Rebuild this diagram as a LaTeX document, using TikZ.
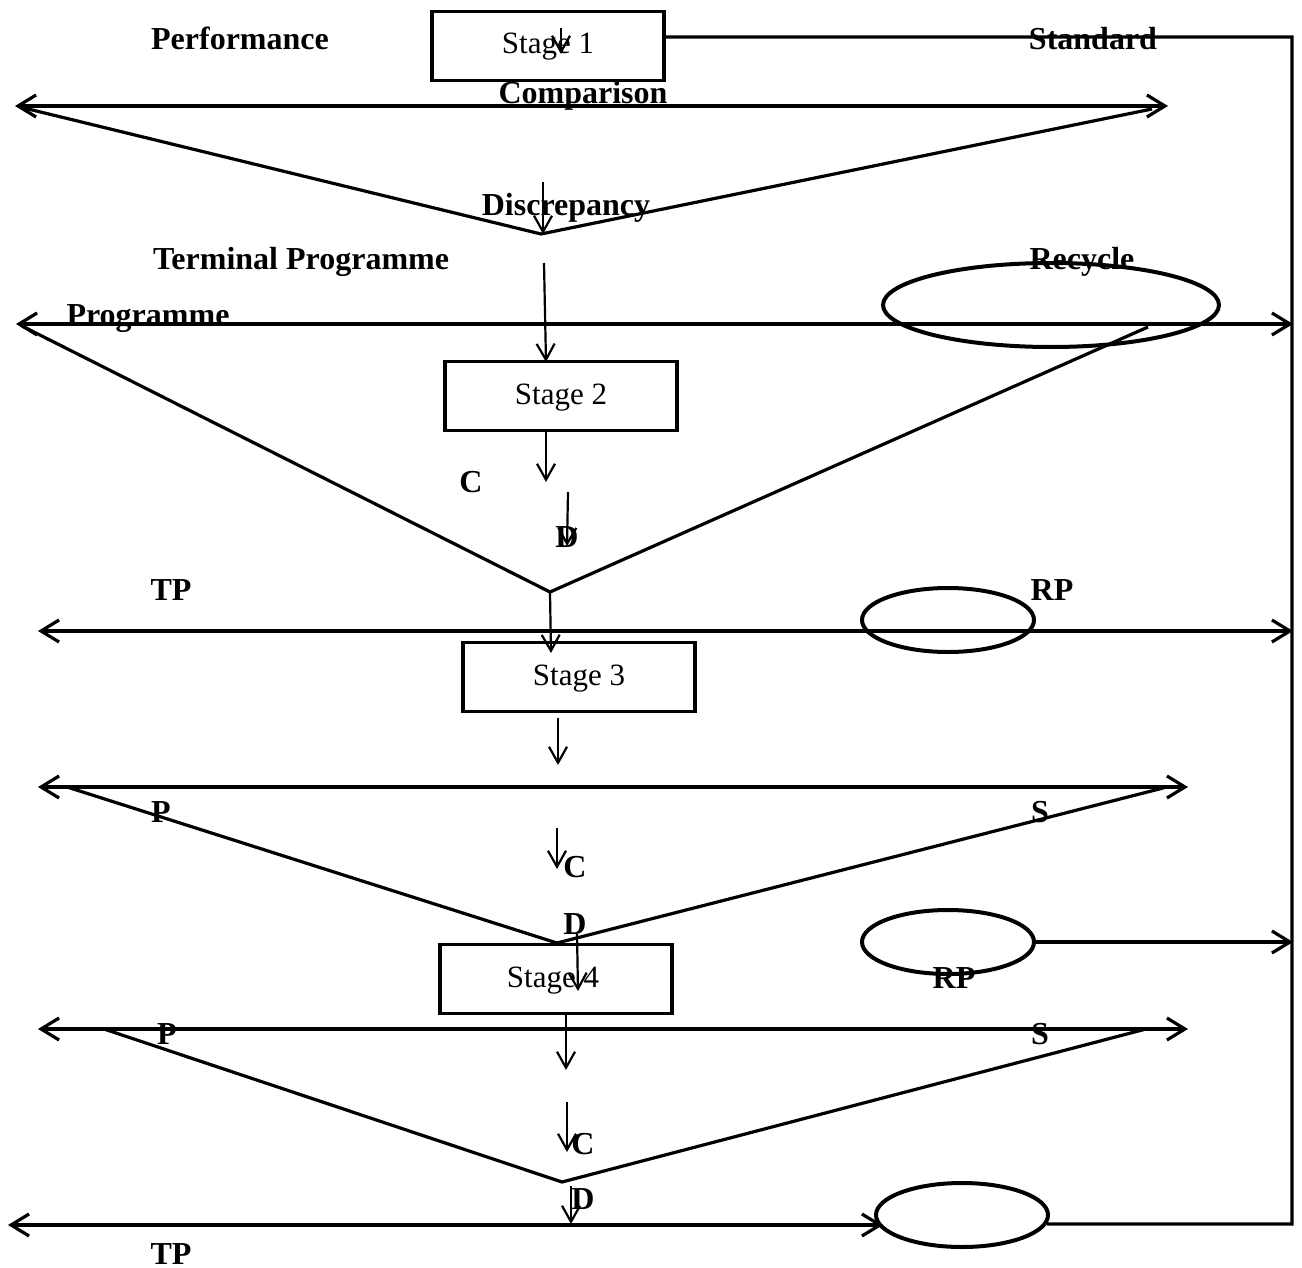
\documentclass[tikz,border=0pt]{standalone}
\usepackage{fontspec}
\setmainfont{Liberation Serif}
\usetikzlibrary{arrows.meta,shapes.geometric}
\tikzset{
  main/.style={line width=1.6pt},
  bigtip/.style={main,-{Straight Barb[length=9pt,width=11pt]}},
  dbl/.style={main,{Straight Barb[length=9pt,width=11pt]}-{Straight Barb[length=9pt,width=11pt]}},
  thinarrow/.style={line width=1.1pt,-{Straight Barb[length=8pt,width=9pt]}},
  stagebox/.style={draw,line width=1.6pt,minimum width=116pt,minimum height=34.5pt,inner sep=0pt,font=\fontsize{15.5}{18}\selectfont},
  lbl/.style={font=\bfseries\fontsize{16}{18}\selectfont,inner sep=0pt,anchor=base},
  oval/.style={draw,ellipse,line width=2pt,inner sep=0pt}
}
\begin{document}
\begin{tikzpicture}[x=0.5pt,y=-0.5pt]
\useasboundingbox (0,0) rectangle (1302,1268);

% stage boxes
\node[stagebox] (s1) at (548,46) {};
\node[stagebox] (s2) at (561,396) {};
\node[stagebox] (s3) at (579,677) {};
\node[stagebox] (s4) at (556,979) {};
\node[font=\fontsize{15.5}{18}\selectfont,inner sep=0pt,anchor=base] (s1t) at (548,54) {Stage 1};
\node[font=\fontsize{15.5}{18}\selectfont,inner sep=0pt,anchor=base] (s2t) at (561,404) {Stage 2};
\node[font=\fontsize{15.5}{18}\selectfont,inner sep=0pt,anchor=base] (s3t) at (579,685) {Stage 3};
\node[font=\fontsize{15.5}{18}\selectfont,inner sep=0pt,anchor=base] (s4t) at (553,987) {Stage 4};

% ovals
\node[oval,minimum width=168pt,minimum height=42pt] (e1) at (1051,305) {};
\node[oval,minimum width=86pt,minimum height=32pt] (e2) at (948,620) {};
\node[oval,minimum width=86pt,minimum height=32pt] (e3) at (948,942) {};
\node[oval,minimum width=86pt,minimum height=32pt] (e4) at (962,1215) {};

% coordinates
\coordinate (l1a) at (15,106);  \coordinate (l1b) at (1168,106);
\coordinate (t1l) at (20,107);  \coordinate (v1) at (541,234); \coordinate (t1r) at (1152,109);
\coordinate (l2a) at (16,324);  \coordinate (l2b) at (1293,324);
\coordinate (t2l) at (22,326);  \coordinate (v2) at (550,592); \coordinate (t2r) at (1148,327);
\coordinate (l3a) at (38,631);  \coordinate (l3b) at (1293,631);
\coordinate (l4a) at (38,787);  \coordinate (l4b) at (1188,787);
\coordinate (t3l) at (67,787);  \coordinate (v3) at (557,943); \coordinate (t3r) at (1167,787);
\coordinate (l5a) at (38,1029); \coordinate (l5b) at (1188,1029);
\coordinate (t4l) at (104,1029); \coordinate (v4) at (562,1182); \coordinate (t4r) at (1146,1029);
\coordinate (l6a) at (8,1225);  \coordinate (l6b) at (883,1225);
\coordinate (rtop) at (1292,37); \coordinate (rbot) at (1292,1224);
\coordinate (e3out) at (1293,942);

% long lines
\draw[dbl] (l1a) -- (l1b);
\draw[main] (t1l) -- (v1) -- (t1r);
\draw[dbl] (l2a) -- (l2b);
\draw[main] (t2l) -- (v2) -- (t2r);
\draw[dbl] (l3a) -- (l3b);
\draw[dbl] (l4a) -- (l4b);
\draw[main] (t3l) -- (v3) -- (t3r);
\draw[dbl] (l5a) -- (l5b);
\draw[main] (t4l) -- (v4) -- (t4r);
\draw[dbl] (l6a) -- (l6b);
\draw[main] (s1.east |- rtop) -- (rtop) -- (rbot) -- (e4.-6);
\draw[bigtip] (e3.east) -- (e3out);

% small arrows
\coordinate (a1s) at (561,28);   \coordinate (a1e) at (561,54);
\coordinate (a2s) at (543,182);  \coordinate (a2e) at (543,234);
\coordinate (a3s) at (544,263);  \coordinate (a3e) at (546,362);
\coordinate (a4e) at (546,482);
\coordinate (a5s) at (568,492);  \coordinate (a5e) at (567,546);
\coordinate (a6e) at (551,653);
\coordinate (a7s) at (558,718);  \coordinate (a7e) at (558,765);
\coordinate (a8s) at (557,828);  \coordinate (a8e) at (557,869);
\coordinate (a9s) at (577,934);  \coordinate (a9e) at (578,991);
\coordinate (a10e) at (566,1070);
\coordinate (a11s) at (567,1102); \coordinate (a11e) at (567,1152);
\coordinate (a12s) at (571,1186); \coordinate (a12e) at (571,1224);

\draw[thinarrow] (a1s) -- (a1e);
\draw[thinarrow] (a2s) -- (a2e);
\draw[thinarrow] (a3s) -- (a3e);
\draw[thinarrow] (s2.south -| a4e) -- (a4e);
\draw[thinarrow] (a5s) -- (a5e);
\draw[thinarrow] (v2) -- (a6e);
\draw[thinarrow] (a7s) -- (a7e);
\draw[thinarrow] (a8s) -- (a8e);
\draw[thinarrow] (a9s) -- (a9e);
\draw[thinarrow] (s4.south -| a10e) -- (a10e);
\draw[thinarrow] (a11s) -- (a11e);
\draw[thinarrow] (a12s) -- (a12e);

% labels
\node[lbl] (perf) at (240,50) {Performance};
\node[lbl] (std) at (1093,50) {Standard};
\node[lbl] (comp) at (583,104) {Comparison};
\node[lbl] (disc) at (566,215) {Discrepancy};
\node[lbl] (term) at (301,270) {Terminal Programme};
\node[lbl] (prog) at (148,325) {Programme};
\node[lbl] (recy) at (1082,269) {Recycle};
\node[lbl] (c2) at (471,492) {C};
\node[lbl] (d2) at (567,547) {D};
\node[lbl] (tp2) at (171,600) {TP};
\node[lbl] (rp2) at (1052,600) {RP};
\node[lbl] (p3) at (161,822) {P};
\node[lbl] (s3l) at (1040,822) {S};
\node[lbl] (c3) at (575,877) {C};
\node[lbl] (d3) at (575,934) {D};
\node[lbl] (rp3) at (954,988) {RP};
\node[lbl] (p4) at (167,1044) {P};
\node[lbl] (s4l) at (1040,1044) {S};
\node[lbl] (c4) at (583,1154) {C};
\node[lbl] (d4) at (583,1209) {D};
\node[lbl] (tp4) at (171,1264) {TP};
\end{tikzpicture}
\end{document}
